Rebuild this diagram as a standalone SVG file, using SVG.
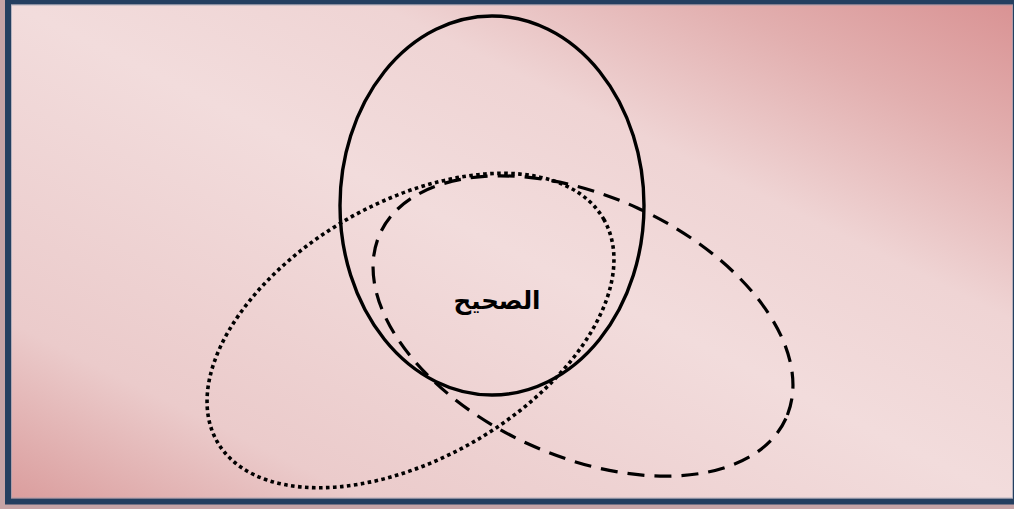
<svg xmlns="http://www.w3.org/2000/svg" width="1014" height="509" viewBox="0 0 1014 509">
  <defs>
    <linearGradient id="bg" x1="0" y1="1" x2="1" y2="0">
      <stop offset="0" stop-color="#DA9C9C"/>
      <stop offset="0.18" stop-color="#EBCBCB"/>
      <stop offset="0.5" stop-color="#F2DCDC"/>
      <stop offset="0.68" stop-color="#EFD4D4"/>
      <stop offset="0.85" stop-color="#E2AFAF"/>
      <stop offset="1" stop-color="#D99293"/>
    </linearGradient>
    <style>
      .shape { fill: none; stroke: #000; }
      .solid { stroke-width: 3.4; }
      .dashed { stroke-width: 3.2; stroke-dasharray: 17 10; }
      .dotted { stroke-width: 3.6; stroke-dasharray: 3.6 3.4; }
      .label { font-family: "Liberation Sans", "DejaVu Sans", "Noto Sans", sans-serif; font-weight: bold; font-size: 24.5px; fill: #000; }
    </style>
  </defs>
  <rect x="0" y="0" width="1014" height="509" fill="#C6A4A6"/>
  <rect id="frame" x="8" y="1.5" width="1008" height="500" fill="url(#bg)" stroke="#243F60" stroke-width="6"/>
  <rect x="11.5" y="5" width="1001" height="493" fill="none" stroke="#8E9AAE" stroke-width="1" opacity="0.6"/>
  <g id="connectors"></g>
  <g id="solid-ellipse">
    <ellipse class="shape solid" cx="492" cy="205.5" rx="152" ry="189.5"/>
  </g>
  <g id="dashed-ellipse">
    <ellipse class="shape dashed" cx="583" cy="326" rx="223" ry="130" transform="rotate(24.5 583 326)"/>
  </g>
  <g id="dotted-ellipse">
    <ellipse class="shape dotted" cx="410.5" cy="330.5" rx="223" ry="128" transform="rotate(-30 410.5 330.5)"/>
  </g>
  <g id="label">
    <text class="label" x="497" y="309" text-anchor="middle" direction="rtl">الصحيح</text>
  </g>
</svg>
